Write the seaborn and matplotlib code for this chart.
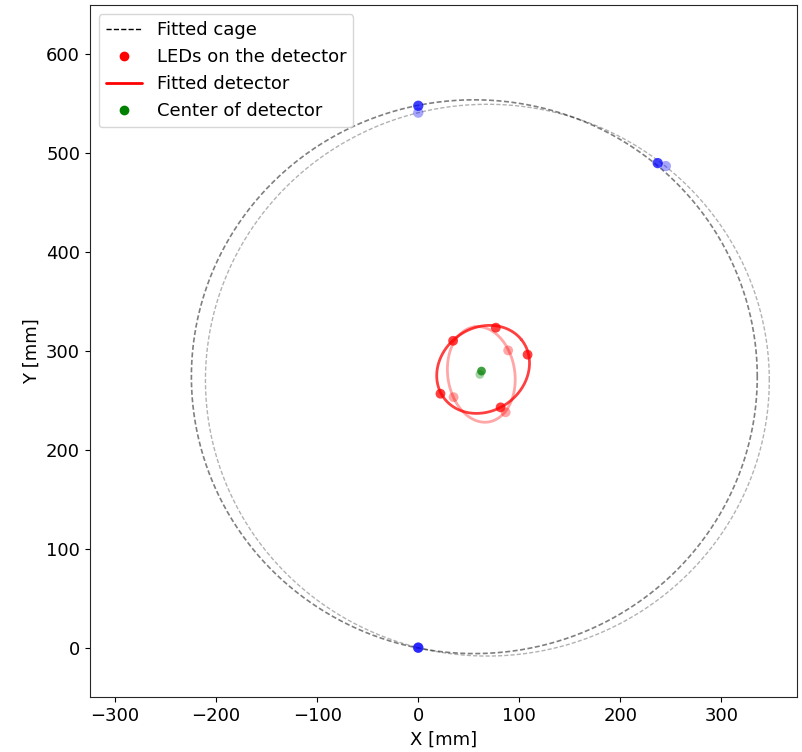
import numpy as np
import pandas as pd
import matplotlib
matplotlib.use('Agg')
import matplotlib.pyplot as plt
from matplotlib.lines import Line2D
import seaborn as sns

# Two frames: first one drawn strong, second one faded
alphas = [0.75, 0.35]

# Cage fit (circle centre / radius) per frame
cage_cx = [55.5, 68.4]
cage_cy = [274.0, 270.5]
cage_r = [280.0, 279.0]

# LEDs on the cage per frame
cage_led_x = [[0.0, 0.0, 237.0], [0.0, 0.0, 245.0]]
cage_led_y = [[0.0, 548.0, 490.0], [0.0, 541.0, 487.0]]

# LEDs on the detector per frame
det_led_x = [[34.5, 76.8, 108.2, 81.5, 22.0], [89.0, 35.0, 86.5]]
det_led_y = [[310.3, 323.6, 296.3, 243.0, 256.8], [300.6, 253.3, 238.0]]

# Fitted detector ellipse per frame: centre, semi axes, angle (deg)
det_cx = [64.2, 62.4]
det_cy = [281.4, 276.3]
det_a = [48.4, 48.6]
det_b = [41.8, 33.2]
det_ang = [38.9, 98.0]

# Detector centre per frame
center_x = [62.6, 61.0]
center_y = [279.7, 276.3]

sns.set_style('ticks')
plt.rcParams['font.family'] = ['DejaVu Sans']
plt.rcParams['xtick.labelsize'] = 13
plt.rcParams['ytick.labelsize'] = 13
plt.rcParams['text.color'] = 'black'
plt.rcParams['axes.labelcolor'] = 'black'
plt.rcParams['xtick.color'] = 'black'
plt.rcParams['ytick.color'] = 'black'

fig = plt.figure(figsize=(8.02, 7.52), dpi=100)
ax = fig.add_axes([0.112, 0.073, 0.882, 0.9205])

t = np.linspace(0, 2 * np.pi, 400)
cage_alpha = [0.5, 0.3]
cage_lw = [1.2, 1.0]

for i, al in enumerate(alphas):
    # cage circle
    cx = cage_cx[i] + cage_r[i] * np.cos(t)
    cy = cage_cy[i] + cage_r[i] * np.sin(t)
    sns.lineplot(x=cx, y=cy, sort=False, estimator=None, color='k', lw=cage_lw[i],
                 dashes=False, alpha=cage_alpha[i], ax=ax).lines[-1].set_dashes((3, 1.5))
    sns.scatterplot(x=cage_led_x[i], y=cage_led_y[i], color='blue', s=55,
                    edgecolor='none', alpha=al, ax=ax, zorder=3)

    # detector ellipse
    th = np.deg2rad(det_ang[i])
    ex = det_a[i] * np.cos(t)
    ey = det_b[i] * np.sin(t)
    dx = det_cx[i] + ex * np.cos(th) - ey * np.sin(th)
    dy = det_cy[i] + ex * np.sin(th) + ey * np.cos(th)
    sns.lineplot(x=dx, y=dy, sort=False, estimator=None, color='red', lw=2,
                 alpha=al, ax=ax)
    sns.scatterplot(x=det_led_x[i], y=det_led_y[i], color='red', s=50,
                    edgecolor='none', alpha=al, ax=ax, zorder=3)
    sns.scatterplot(x=[center_x[i]], y=[center_y[i]], color='green', s=40,
                    edgecolor='none', alpha=al, ax=ax, zorder=4)

ax.set_xlim(-325, 375)
ax.set_ylim(-50, 650)
ax.set_xticks([-300, -200, -100, 0, 100, 200, 300])
ax.set_yticks([0, 100, 200, 300, 400, 500, 600])
ax.set_xlabel('X [mm]', fontsize=13)
ax.set_ylabel('Y [mm]', fontsize=13)

handles = [
    Line2D([], [], color='k', lw=1, linestyle='--'),
    Line2D([], [], color='red', marker='o', linestyle='none', markersize=6),
    Line2D([], [], color='red', lw=2),
    Line2D([], [], color='green', marker='o', linestyle='none', markersize=6),
]
labels = ['Fitted cage', 'LEDs on the detector', 'Fitted detector', 'Center of detector']
ax.legend(handles, labels, loc='upper left', fontsize=13)

fig.savefig('out.png', dpi=100)
